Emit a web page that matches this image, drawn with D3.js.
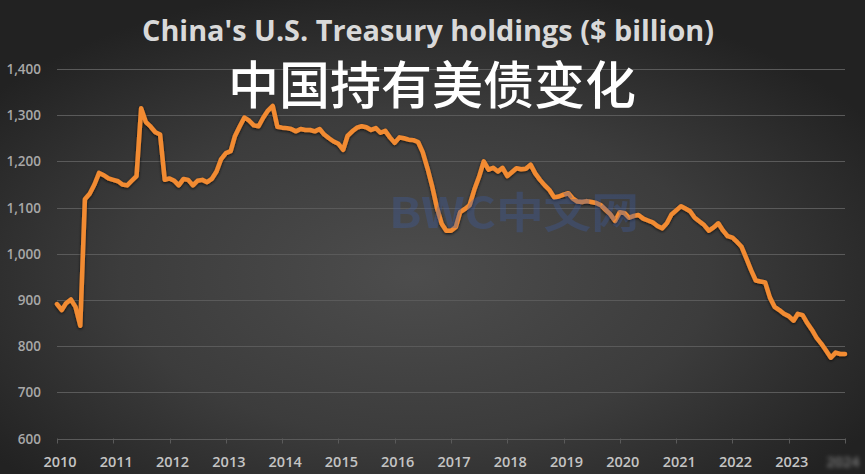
<!DOCTYPE html>
<html>
<head>
<meta charset="utf-8">
<script src="https://cdn.jsdelivr.net/npm/d3@7"></script>
<style>
  html, body { margin: 0; padding: 0; background: #2b2b2b; }
  svg { display: block; }
</style>
</head>
<body>
<div id="chart"></div>
<script>
const titleText = "China's U.S. Treasury holdings ($ billion)";
const overlayText = "中国持有美债变化";
const watermarkText = "BWC中文网";

const yearLabels = ["2010", "2011", "2012", "2013", "2014", "2015", "2016",
  "2017", "2018", "2019", "2020", "2021", "2022", "2023", "2024"];
const yTicks = [600, 700, 800, 900, 1000, 1100, 1200, 1300, 1400];

// monthly holdings, Jan 2010 .. Jan 2024 ($ billion)
const holdings = [
  891, 878, 893, 901, 885, 844, 1118, 1130, 1150, 1175, 1170, 1163, // 2010
  1160, 1157, 1150, 1148, 1158, 1168, 1315, 1285, 1275, 1263, 1258, 1160, // 2011
  1163, 1158, 1148, 1162, 1160, 1148, 1158, 1160, 1155, 1162, 1178, 1205, // 2012
  1218, 1222, 1255, 1276, 1295, 1288, 1278, 1276, 1295, 1310, 1320, 1275, // 2013
  1273, 1272, 1270, 1265, 1270, 1268, 1268, 1265, 1270, 1258, 1250, 1243, // 2014
  1238, 1225, 1255, 1265, 1273, 1276, 1274, 1268, 1272, 1262, 1266, 1252, // 2015
  1240, 1252, 1250, 1247, 1246, 1242, 1220, 1185, 1145, 1100, 1065, 1050, // 2016
  1050, 1058, 1090, 1097, 1105, 1139, 1166, 1200, 1182, 1186, 1178, 1186, // 2017
  1168, 1177, 1185, 1183, 1184, 1193, 1174, 1160, 1148, 1138, 1122, 1124, // 2018
  1128, 1131, 1120, 1113, 1112, 1114, 1112, 1110, 1105, 1095, 1085, 1071, // 2019
  1090, 1088, 1078, 1082, 1084, 1076, 1072, 1068, 1060, 1055, 1066, 1085, // 2020
  1094, 1103, 1098, 1092, 1078, 1070, 1062, 1050, 1057, 1066, 1050, 1038, // 2021
  1035, 1025, 1015, 990, 965, 942, 940, 938, 905, 885, 878, 870,          // 2022
  865, 855, 870, 867, 850, 835, 818, 805, 790, 775, 786, 783,             // 2023
  783                                                                      // 2024
];

const width = 865;
const height = 474;
const margin = { top: 69, right: 20, bottom: 35, left: 57 };
const innerWidth = 788;
const innerHeight = height - margin.top - margin.bottom - 0.5;

const startDate = new Date(2010, 0, 1);
const points = holdings.map((value, i) => ({
  date: d3.timeMonth.offset(startDate, i),
  value
}));

const x = d3.scaleTime()
  .domain([new Date(2010, 0, 1), new Date(2024, 0, 1)])
  .range([0, innerWidth]);
const y = d3.scaleLinear()
  .domain([600, 1400])
  .range([innerHeight, 0]);

const svg = d3.select("#chart")
  .append("svg")
  .attr("width", width)
  .attr("height", height)
  .attr("viewBox", `0 0 ${width} ${height}`);

const defs = svg.append("defs");
const bg = defs.append("radialGradient")
  .attr("id", "bg")
  .attr("cx", "48%")
  .attr("cy", "58%")
  .attr("r", "62%");
bg.append("stop").attr("offset", "0%").attr("stop-color", "#4d4d4d");
bg.append("stop").attr("offset", "55%").attr("stop-color", "#3c3c3c");
bg.append("stop").attr("offset", "100%").attr("stop-color", "#222222");

const shadow = defs.append("filter")
  .attr("id", "shadow")
  .attr("x", "-10%").attr("y", "-10%")
  .attr("width", "120%").attr("height", "120%");
shadow.append("feDropShadow")
  .attr("dx", 0).attr("dy", 1)
  .attr("stdDeviation", 1.8)
  .attr("flood-color", "#000")
  .attr("flood-opacity", 0.75);

const smudge = defs.append("filter").attr("id", "smudge");
smudge.append("feGaussianBlur").attr("stdDeviation", 2);

svg.append("rect")
  .attr("width", width)
  .attr("height", height)
  .attr("fill", "url(#bg)");

// title
svg.append("text")
  .attr("x", 428)
  .attr("y", 41)
  .attr("text-anchor", "middle")
  .attr("fill", "#d9d9d9")
  .attr("textLength", 572)
  .attr("lengthAdjust", "spacingAndGlyphs")
  .style("font-family", "'Open Sans', 'Liberation Sans', sans-serif")
  .style("font-weight", 700)
  .style("font-size", "29px")
  .text(titleText);

const root = svg.append("g")
  .attr("transform", `translate(${margin.left},${margin.top})`);

// horizontal grid
root.append("g")
  .selectAll("line")
  .data(yTicks)
  .join("line")
  .attr("x1", 0)
  .attr("x2", innerWidth)
  .attr("y1", (d) => Math.round(y(d)) + 0.5)
  .attr("y2", (d) => Math.round(y(d)) + 0.5)
  .attr("stroke", "#5a5a5a")
  .attr("stroke-width", 1);

// y labels
root.append("g")
  .selectAll("text")
  .data(yTicks)
  .join("text")
  .attr("x", -16)
  .attr("y", (d) => y(d) + 5)
  .attr("text-anchor", "end")
  .attr("fill", "#a8a8a8")
  .style("font-family", "'Open Sans', 'Liberation Sans', sans-serif")
  .style("font-weight", 600)
  .style("font-size", "13.5px")
  .text((d) => d3.format(",")(d));

// x ticks and labels
const yearDates = yearLabels.map((label) => new Date(+label, 0, 1));
root.append("g")
  .selectAll("line")
  .data(yearDates)
  .join("line")
  .attr("x1", (d) => Math.round(x(d)) + 0.5)
  .attr("x2", (d) => Math.round(x(d)) + 0.5)
  .attr("y1", innerHeight)
  .attr("y2", innerHeight + 5)
  .attr("stroke", "#5a5a5a");

root.append("g")
  .selectAll("text")
  .data(yearLabels)
  .join("text")
  .attr("x", (d, i) => x(yearDates[i]) + (i === yearLabels.length - 1 ? -2 : 3))
  .attr("y", innerHeight + 28)
  .attr("text-anchor", "middle")
  .attr("fill", "#c4c4c4")
  .attr("filter", (d, i) => (i === yearLabels.length - 1 ? "url(#smudge)" : null))
  .attr("opacity", (d, i) => (i === yearLabels.length - 1 ? 0.55 : 1))
  .style("font-family", "'Open Sans', 'Liberation Sans', sans-serif")
  .style("font-weight", 600)
  .style("font-size", "14.5px")
  .text((d) => d);

// watermark
svg.append("text")
  .attr("x", 514)
  .attr("y", 228)
  .attr("text-anchor", "middle")
  .attr("fill", "#3d5ea8")
  .attr("opacity", 0.32)
  .attr("textLength", 250)
  .attr("lengthAdjust", "spacingAndGlyphs")
  .style("font-family", "'Noto Sans CJK SC', sans-serif")
  .style("font-weight", 700)
  .style("font-size", "42px")
  .text(watermarkText);

// series
const line = d3.line()
  .x((d) => x(d.date))
  .y((d) => y(d.value))
  .curve(d3.curveLinear);

root.append("path")
  .datum(points)
  .attr("d", line)
  .attr("fill", "none")
  .attr("stroke", "#f28b33")
  .attr("stroke-width", 4.5)
  .attr("stroke-linejoin", "round")
  .attr("stroke-linecap", "round")
  .attr("filter", "url(#shadow)");

// chinese overlay title
svg.append("text")
  .attr("x", 432)
  .attr("y", 104)
  .attr("text-anchor", "middle")
  .attr("fill", "#ffffff")
  .style("font-family", "'Noto Sans CJK SC', sans-serif")
  .style("font-weight", 500)
  .style("font-size", "51px")
  .text(overlayText);
</script>
</body>
</html>
